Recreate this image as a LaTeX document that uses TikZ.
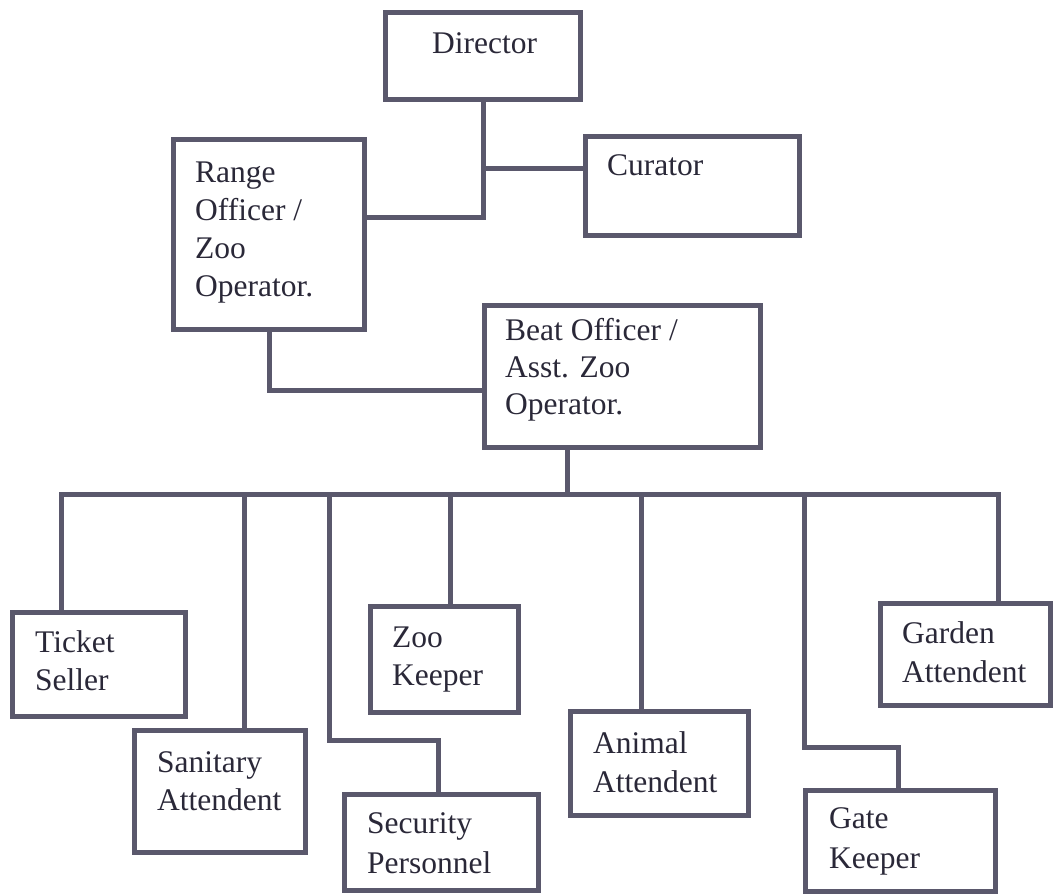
\documentclass[tikz,border=0pt]{standalone}
\usepackage{fontspec}
\setmainfont{Liberation Serif}
\definecolor{linec}{RGB}{90,88,108}
\definecolor{textc}{RGB}{42,40,56}
\tikzset{
  x=1pt, y=-1pt,
  box/.style={draw=linec, line width=5pt, rectangle, inner sep=0pt, fill=white},
  conn/.style={draw=linec, line width=5pt, line cap=rect, line join=miter},
  lbl/.style={anchor=base west, inner sep=0pt, text=textc, font=\fontsize{31.5}{38}\selectfont}
}
\begin{document}
\begin{tikzpicture}
\useasboundingbox[fill=white] (0,0) rectangle (1055,895);
% boxes
\node[box, minimum width=195pt, minimum height=87pt] (dir) at (483,56) {};
\node[box, minimum width=214pt, minimum height=99pt] (cur) at (692.5,186) {};
\node[box, minimum width=191pt, minimum height=190pt] (rng) at (269,234.5) {};
\node[box, minimum width=276pt, minimum height=142pt] (beat) at (622.5,376.5) {};
\node[box, minimum width=173pt, minimum height=104pt] (tic) at (99,664.5) {};
\node[box, minimum width=171pt, minimum height=122pt] (san) at (220,791.5) {};
\node[box, minimum width=194pt, minimum height=96pt] (sec) at (441.5,842.5) {};
\node[box, minimum width=148pt, minimum height=106pt] (zk) at (444.5,659.5) {};
\node[box, minimum width=178pt, minimum height=104pt] (ani) at (659.5,763.5) {};
\node[box, minimum width=190pt, minimum height=101pt] (gate) at (900.5,840.5) {};
\node[box, minimum width=170pt, minimum height=102pt] (gar) at (965.5,654.5) {};
% junction coordinates
\coordinate (j1) at (483,217);
\coordinate (j2) at (483,168);
\coordinate (j3) at (269,390);
\coordinate (b0) at (567,494);
\coordinate (bl) at (61,494);
\coordinate (br) at (998,494);
\coordinate (d2) at (244,494);
\coordinate (d3) at (329,494);
\coordinate (d3a) at (329,740);
\coordinate (d3b) at (438,740);
\coordinate (d4) at (450,494);
\coordinate (d5) at (641,494);
\coordinate (d6) at (804,494);
\coordinate (d6a) at (804,747);
\coordinate (d6b) at (898,747);
% connectors
\draw[conn] (dir.south) -- (j1) -- (j1 -| rng.east);
\draw[conn] (j2) -- (j2 -| cur.west);
\draw[conn] (rng.south) -- (j3) -- (j3 -| beat.west);
\draw[conn] (b0 |- beat.south) -- (b0);
\draw[conn] (bl) -- (br);
\draw[conn] (bl) -- (bl |- tic.north);
\draw[conn] (d2) -- (d2 |- san.north);
\draw[conn] (d3) -- (d3a) -- (d3b) -- (d3b |- sec.north);
\draw[conn] (d4) -- (d4 |- zk.north);
\draw[conn] (d5) -- (d5 |- ani.north);
\draw[conn] (d6) -- (d6a) -- (d6b) -- (d6b |- gate.north);
\draw[conn] (br) -- (br |- gar.north);
% labels
\node[lbl] (dirA) at (432,53) {Director};
\node[lbl] (curA) at (607,175) {Curator};
\node[lbl] (rngA) at (195,182) {Range};
\node[lbl] (rngB) at (195,220) {Officer /};
\node[lbl] (rngC) at (195,258) {Zoo};
\node[lbl] (rngD) at (195,296) {Operator.};
\node[lbl] (beatA) at (505,340) {Beat Officer /};
\node[lbl] (beatB) at (505,377) {Asst. Zoo};
\node[lbl] (beatC) at (505,414) {Operator.};
\node[lbl] (ticA) at (35,652) {Ticket};
\node[lbl] (ticB) at (35,690) {Seller};
\node[lbl] (sanA) at (157,772) {Sanitary};
\node[lbl] (sanB) at (157,810) {Attendent};
\node[lbl] (secA) at (367,833) {Security};
\node[lbl] (secB) at (367,873) {Personnel};
\node[lbl] (zkA) at (392,647) {Zoo};
\node[lbl] (zkB) at (392,685) {Keeper};
\node[lbl] (aniA) at (593,753) {Animal};
\node[lbl] (aniB) at (593,792) {Attendent};
\node[lbl] (gateA) at (829,828) {Gate};
\node[lbl] (gateB) at (829,868) {Keeper};
\node[lbl] (garA) at (902,643) {Garden};
\node[lbl] (garB) at (902,682) {Attendent};
\end{tikzpicture}
\end{document}
